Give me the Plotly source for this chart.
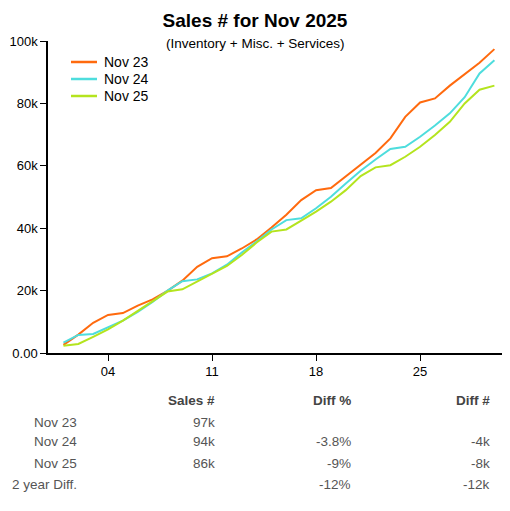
import plotly.graph_objects as go

# daily cumulative sales (thousands), days 1..30
days = list(range(1, 31))

nov_23 = [2.6, 5.9, 9.7, 12.2, 12.8, 15.2, 17.2, 19.9, 23.2, 27.6,
          30.4, 31.0, 33.5, 36.4, 40.2, 44.3, 49.0, 52.2, 52.9, 56.6,
          60.3, 64.1, 68.8, 75.7, 80.3, 81.6, 85.7, 89.3, 93.0, 97.4]
nov_24 = [3.3, 5.8, 6.1, 8.2, 10.4, 13.2, 16.4, 20.0, 23.0, 23.6,
          25.5, 28.3, 32.2, 35.7, 39.6, 42.6, 43.2, 46.4, 50.1, 54.3,
          58.4, 62.0, 65.4, 66.1, 69.3, 72.9, 76.8, 82.0, 89.6, 93.8]
nov_25 = [2.3, 2.9, 5.2, 7.6, 10.4, 13.5, 16.6, 19.7, 20.4, 22.9,
          25.3, 27.9, 31.4, 35.4, 38.9, 39.6, 42.4, 45.3, 48.5, 52.2,
          56.7, 59.5, 60.2, 62.9, 66.1, 69.9, 74.1, 80.0, 84.4, 85.7]

series_names = ["Nov 23", "Nov 24", "Nov 25"]
series_colors = ["#FF6A0E", "#4EDDDD", "#B4E41E"]

x_tickvals = [4, 11, 18, 25]
x_ticktext = ["04", "11", "18", "25"]
y_tickvals = [0, 20000, 40000, 60000, 80000, 100000]
y_ticktext = ["0.00", "20k", "40k", "60k", "80k", "100k"]

# summary table
table_header = ["Sales #", "Diff %", "Diff #"]
table_rows = ["Nov 23", "Nov 24", "Nov 25", "2 year Diff."]
table_sales = ["97k", "94k", "86k", ""]
table_diff_pct = ["", "-3.8%", "-9%", "-12%"]
table_diff_num = ["", "-4k", "-8k", "-12k"]

FONT = "Liberation Sans, Arial, sans-serif"
OFF = 8  # page body margin
W, H = 510 - OFF, 511 - OFF
L, R, T, B = 48 - OFF, 0, 41 - OFF, 158


# page pixel -> paper coords
def px_x(p):
    return (p - OFF - L) / (W - L - R)


def px_y(p):
    return (H - B - (p - OFF)) / (H - T - B)


fig = go.Figure()
for name, vals, col in zip(series_names, [nov_23, nov_24, nov_25], series_colors):
    fig.add_trace(go.Scatter(
        x=days, y=[v * 1000 for v in vals], name=name, mode="lines",
        line=dict(color=col, width=2), showlegend=False,
    ))

fig.update_xaxes(
    range=[-0.04, 31.05], tickvals=x_tickvals, ticktext=x_ticktext,
    showgrid=False, zeroline=False, showline=True, linecolor="black", linewidth=1.5,
    ticks="outside", ticklen=6, tickcolor="black", tickfont=dict(size=13, color="black"),
)
fig.update_yaxes(
    range=[0, 100000], tickvals=y_tickvals, ticktext=y_ticktext,
    showgrid=False, zeroline=False, showline=True, linecolor="black", linewidth=1.5,
    ticks="outside", ticklen=6, tickcolor="black", tickfont=dict(size=13, color="black"),
)

annotations = [dict(
    text="(Inventory + Misc. + Services)", x=px_x(255), y=px_y(44), xref="paper", yref="paper",
    xanchor="center", yanchor="middle", showarrow=False, font=dict(size=13.5, color="black"),
)]
shapes = []

# legend drawn by hand (tighter rows than plotly's legend)
legend_y = [62, 79, 96]
for name, col, ly in zip(series_names, series_colors, legend_y):
    shapes.append(dict(type="line", xref="paper", yref="paper",
                       x0=px_x(71), x1=px_x(97), y0=px_y(ly), y1=px_y(ly),
                       line=dict(color=col, width=2.5)))
    annotations.append(dict(
        text=name, x=px_x(102), y=px_y(ly), xref="paper", yref="paper",
        xanchor="left", yanchor="middle", showarrow=False, font=dict(size=14, color="black"),
    ))

# column right edges in pixels
col_right = [217, 353, 492]
for txt, cx in zip(table_header, col_right):
    annotations.append(dict(
        text="<b>%s</b>" % txt, x=px_x(cx), y=px_y(400), xref="paper", yref="paper",
        xanchor="right", yanchor="middle", showarrow=False, font=dict(size=13.5, color="#444"),
    ))
row_y = [422, 442, 463, 484]
for i, ry in enumerate(row_y):
    cells = [table_rows[i], table_sales[i], table_diff_pct[i], table_diff_num[i]]
    for txt, cx in zip(cells, [79] + col_right):
        if not txt:
            continue
        annotations.append(dict(
            text=txt, x=px_x(cx), y=px_y(ry), xref="paper", yref="paper",
            xanchor="right", yanchor="middle", showarrow=False, font=dict(size=13.5, color="#555"),
        ))

fig.update_layout(
    width=W, height=H,
    margin=dict(l=L, r=R, t=T, b=B),
    plot_bgcolor="white", paper_bgcolor="white",
    font=dict(family=FONT, color="black"),
    title=dict(text="<b>Sales # for Nov 2025</b>", x=(255 - OFF) / W, xref="container", xanchor="center",
               y=1 - (20 - OFF) / H, yanchor="middle", font=dict(size=19, color="black")),
    annotations=annotations,
    shapes=shapes,
    showlegend=False,
)

fig.write_html("out.html")
